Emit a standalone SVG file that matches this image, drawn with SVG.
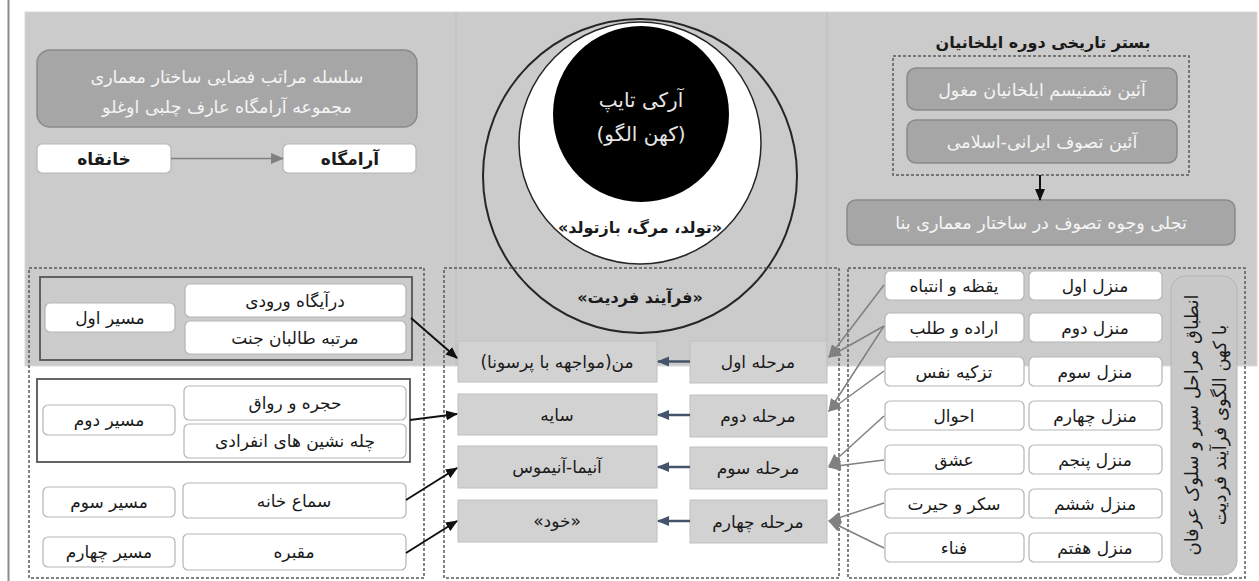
<svg xmlns="http://www.w3.org/2000/svg" width="1259" height="581" viewBox="0 0 1259 581">
<style>
text{font-family:"DejaVu Sans","Noto Sans",sans-serif;font-size:17px;fill:#1a1a1a;text-anchor:middle;direction:rtl}
.wb{fill:#ffffff;stroke:#b5b5b5;stroke-width:1.2}
.db{fill:#a6a6a6;stroke:#8a8a8a;stroke-width:1.5}
.wt{fill:#f4f4f4;font-size:17.5px}
.mb{fill:#d2d2d2;stroke:#bfbfbf;stroke-width:1}
.dash{fill:none;stroke:#5a5a5a;stroke-width:1.5;stroke-dasharray:3 2}
.grp{stroke:#555555;stroke-width:1.8}
.bk{stroke:#111111;stroke-width:2;fill:none}
.gy{stroke:#808080;stroke-width:1.5;fill:none}
.bl{stroke:#44546a;stroke-width:2.5;fill:none}
.b{font-weight:bold}
</style>
<defs>
<marker id="ak" viewBox="0 0 12 10" refX="11" refY="5" markerWidth="12" markerHeight="10" markerUnits="userSpaceOnUse" orient="auto"><path d="M0,0 L12,5 L0,10 z" fill="#111111"/></marker>
<marker id="ag" viewBox="0 0 12 10" refX="11" refY="5" markerWidth="13" markerHeight="11" markerUnits="userSpaceOnUse" orient="auto"><path d="M0,0 L12,5 L0,10 z" fill="#808080"/></marker>
<marker id="ab" viewBox="0 0 12 10" refX="11" refY="5" markerWidth="12" markerHeight="11" markerUnits="userSpaceOnUse" orient="auto"><path d="M0,0 L12,5 L0,10 z" fill="#44546a"/></marker>
</defs>
<rect width="1259" height="581" fill="#ffffff"/>
<line x1="8.5" y1="0" x2="8.5" y2="581" stroke="#8c8c8c" stroke-width="2"/>
<rect x="25" y="12" width="1232" height="354" fill="#cbcbcb" stroke="#dadada"/>
<line x1="456" y1="12" x2="456" y2="366" stroke="#bdbdbd"/>
<line x1="827" y1="12" x2="827" y2="366" stroke="#bdbdbd"/>

<g id="left-title"><rect class="db" x="37" y="50" width="380" height="77" rx="13"/><text class="wt" x="227" y="83">سلسله مراتب فضایی ساختار معماری</text><text class="wt" x="227" y="113">مجموعه آرامگاه عارف چلبی اوغلو</text></g>
<g id="khanqah"><rect class="wb" x="37" y="144" width="134" height="29" rx="5"/><text class="b" x="104" y="165">خانقاه</text></g>
<g id="aramgah"><rect class="wb" x="283" y="144" width="133" height="29" rx="5"/><text class="b" x="350" y="165">آرامگاه</text></g>

<g id="left-dashed"><rect class="dash" x="29" y="268" width="395" height="310"/></g>
<g id="route1"><rect class="grp" fill="none" x="40" y="277" width="372" height="83"/>
<rect class="wb" x="45" y="303" width="130" height="29" rx="5"/><text x="110" y="324">مسیر اول</text>
<rect class="wb" x="185" y="284" width="221" height="33" rx="5"/><text x="295" y="307">درآیگاه ورودی</text>
<rect class="wb" x="185" y="321" width="221" height="33" rx="5"/><text x="295" y="344">مرتبه طالبان جنت</text></g>
<g id="route2"><rect class="grp" fill="#ffffff" x="37" y="379" width="373" height="83"/>
<rect class="wb" x="43" y="405" width="132" height="30" rx="5"/><text x="109" y="426">مسیر دوم</text>
<rect class="wb" x="184" y="386" width="222" height="34" rx="5"/><text x="295" y="409">حجره و رواق</text>
<rect class="wb" x="184" y="424" width="222" height="34" rx="5"/><text x="295" y="447">چله نشین های انفرادی</text></g>
<g id="route3"><rect class="wb" x="43" y="487" width="132" height="30" rx="5"/><text x="109" y="508">مسیر سوم</text>
<rect class="wb" x="183" y="483" width="223" height="35" rx="5"/><text x="294" y="507">سماع خانه</text></g>
<g id="route4"><rect class="wb" x="43" y="537" width="132" height="30" rx="5"/><text x="109" y="558">مسیر چهارم</text>
<rect class="wb" x="183" y="534" width="223" height="36" rx="5"/><text x="294" y="558">مقبره</text></g>

<g id="circles">
<circle cx="640" cy="176" r="157" fill="none" stroke="#262626" stroke-width="2"/>
<circle cx="640" cy="143" r="121" fill="#ffffff" stroke="#262626" stroke-width="1.5"/>
<circle cx="641" cy="114" r="88" fill="#000000"/>
<text x="641" y="107" style="fill:#e6e6e6;font-size:20px">آرکی تایپ</text>
<text x="641" y="141" style="fill:#e6e6e6;font-size:20px">(کهن الگو)</text>
<text class="b" x="640" y="233" style="font-size:16px">«تولد، مرگ، بازتولد»</text>
<text class="b" x="640" y="303" style="font-size:16px">«فرآیند فردیت»</text>
</g>
<g id="mid-dashed"><rect class="dash" x="444" y="268" width="395" height="310"/></g>
<g id="persona"><rect class="mb" x="458" y="341" width="199" height="41"/><text x="557" y="368">من(مواجهه با پرسونا)</text></g>
<g id="shadow"><rect class="mb" x="458" y="394" width="199" height="41"/><text x="557" y="421">سایه</text></g>
<g id="anima"><rect class="mb" x="458" y="446" width="199" height="42"/><text x="557" y="473">آنیما-آنیموس</text></g>
<g id="self"><rect class="mb" x="458" y="500" width="199" height="42"/><text x="557" y="527">«خود»</text></g>
<g id="stage1"><rect class="mb" x="690" y="341" width="137" height="42"/><text x="758" y="368">مرحله اول</text></g>
<g id="stage2"><rect class="mb" x="690" y="395" width="137" height="42"/><text x="758" y="422">مرحله دوم</text></g>
<g id="stage3"><rect class="mb" x="690" y="447" width="137" height="42"/><text x="758" y="474">مرحله سوم</text></g>
<g id="stage4"><rect class="mb" x="690" y="500" width="137" height="43"/><text x="758" y="528">مرحله چهارم</text></g>

<g id="right-title"><text class="b" x="1043" y="48" style="font-size:16px">بستر تاریخی دوره ایلخانیان</text></g>
<g id="rites"><rect class="dash" x="893" y="56" width="296" height="119"/>
<rect class="db" x="907" y="68" width="270" height="42" rx="9"/><text class="wt" x="1042" y="96">آئین شمنیسم ایلخانیان مغول</text>
<rect class="db" x="907" y="120" width="270" height="43" rx="9"/><text class="wt" x="1042" y="148">آئین تصوف ایرانی-اسلامی</text></g>
<g id="tajalli"><rect class="db" x="847" y="200" width="388" height="45" rx="9"/><text class="wt" x="1041" y="229">تجلی وجوه تصوف در ساختار معماری بنا</text></g>

<g id="right-dashed"><rect class="dash" x="848" y="268" width="397" height="310"/></g>
<g id="m1"><rect class="wb" x="1029" y="271" width="133" height="29" rx="5"/><text x="1095" y="292">منزل اول</text><rect class="wb" x="885" y="271" width="139" height="29" rx="5"/><text x="954" y="292">یقظه و انتباه</text></g>
<g id="m2"><rect class="wb" x="1029" y="313" width="133" height="29" rx="5"/><text x="1095" y="334">منزل دوم</text><rect class="wb" x="885" y="313" width="139" height="29" rx="5"/><text x="954" y="334">اراده و طلب</text></g>
<g id="m3"><rect class="wb" x="1029" y="357" width="133" height="29" rx="5"/><text x="1095" y="378">منزل سوم</text><rect class="wb" x="885" y="357" width="139" height="29" rx="5"/><text x="954" y="378">تزکیه نفس</text></g>
<g id="m4"><rect class="wb" x="1029" y="401" width="133" height="29" rx="5"/><text x="1095" y="422">منزل چهارم</text><rect class="wb" x="885" y="401" width="139" height="29" rx="5"/><text x="954" y="422">احوال</text></g>
<g id="m5"><rect class="wb" x="1029" y="445" width="133" height="29" rx="5"/><text x="1095" y="466">منزل پنجم</text><rect class="wb" x="885" y="445" width="139" height="29" rx="5"/><text x="954" y="466">عشق</text></g>
<g id="m6"><rect class="wb" x="1029" y="489" width="133" height="29" rx="5"/><text x="1095" y="510">منزل ششم</text><rect class="wb" x="885" y="489" width="139" height="29" rx="5"/><text x="954" y="510">سکر و حیرت</text></g>
<g id="m7"><rect class="wb" x="1029" y="533" width="133" height="29" rx="5"/><text x="1095" y="554">منزل هفتم</text><rect class="wb" x="885" y="533" width="139" height="29" rx="5"/><text x="954" y="554">فناء</text></g>
<g id="vertical-label"><rect x="1171" y="276" width="66" height="299" rx="14" fill="#c8c8c8" stroke="#b5b5b5"/>
<g transform="translate(1204,425) rotate(-90)"><text x="0" y="-6" style="font-size:18px">انطباق مراحل سیر و سلوک عرفان</text><text x="0" y="22" style="font-size:18px">با کهن الگوی فرآیند فردیت</text></g></g>

<g id="connectors">
<line class="gy" x1="171" y1="158.5" x2="283" y2="158.5" marker-end="url(#ag)"/>
<line class="bk" x1="1040" y1="175" x2="1040" y2="200" marker-end="url(#ak)"/>
<line class="bk" x1="411" y1="318" x2="457" y2="358" marker-end="url(#ak)"/>
<line class="bk" x1="410" y1="420" x2="457" y2="414" marker-end="url(#ak)"/>
<line class="bk" x1="406" y1="500" x2="457" y2="468" marker-end="url(#ak)"/>
<line class="bk" x1="406" y1="553" x2="457" y2="521" marker-end="url(#ak)"/>
<line class="bl" x1="690" y1="361.5" x2="658" y2="361.5" marker-end="url(#ab)"/>
<line class="bl" x1="690" y1="415" x2="658" y2="415" marker-end="url(#ab)"/>
<line class="bl" x1="690" y1="467" x2="658" y2="467" marker-end="url(#ab)"/>
<line class="bl" x1="690" y1="521" x2="658" y2="521" marker-end="url(#ab)"/>
<line class="gy" x1="884" y1="285" x2="829" y2="357" marker-end="url(#ag)"/>
<line class="gy" x1="884" y1="326" x2="829" y2="357" marker-end="url(#ag)"/>
<line class="gy" x1="884" y1="326" x2="829" y2="411" marker-end="url(#ag)"/>
<line class="gy" x1="884" y1="371" x2="829" y2="411" marker-end="url(#ag)"/>
<line class="gy" x1="884" y1="416" x2="829" y2="466" marker-end="url(#ag)"/>
<line class="gy" x1="884" y1="460" x2="829" y2="467" marker-end="url(#ag)"/>
<line class="gy" x1="884" y1="503" x2="829" y2="521" marker-end="url(#ag)"/>
<line class="gy" x1="884" y1="548" x2="829" y2="521" marker-end="url(#ag)"/>
</g>
</svg>
